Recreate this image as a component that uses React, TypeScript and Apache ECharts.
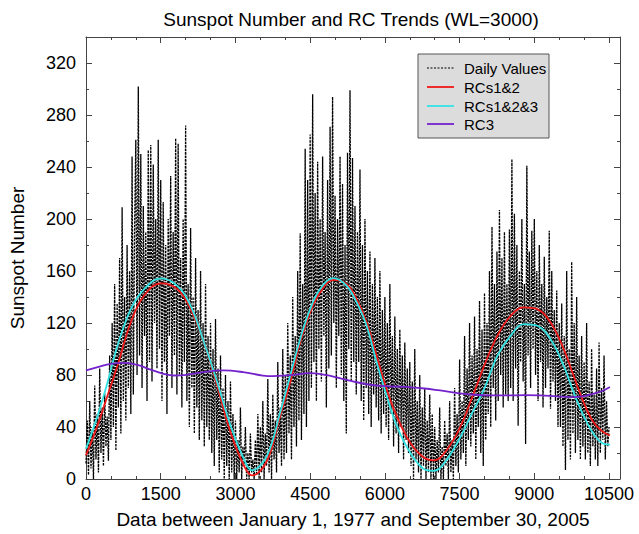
import React, { useEffect, useRef } from 'react';
import * as echarts from 'echarts';

// Daily sunspot values, one reading every 25 days from day 0
const dailyStep = 25;
const dailyValues = [
  12, 45, 3, 60, 8, 38, 0, 72, 15, 50, 5, 85, 20, 55, 10, 66, 25, 48, 14, 95,
  30, 120, 40, 150, 22, 135, 55, 170, 35, 209, 60, 140, 45, 180, 70, 160, 50, 248, 65, 190,
  261, 80, 302, 95, 250, 70, 210, 110, 190, 60, 253, 90, 257, 75, 242, 120, 200, 85, 261, 100,
  230, 60, 213, 90, 180, 50, 200, 110, 233, 70, 190, 95, 262, 65, 258, 80, 170, 55, 200, 90,
  272, 60, 150, 40, 193, 70, 140, 35, 170, 55, 130, 30, 160, 45, 120, 25, 150, 40, 110, 30,
  120, 20, 100, 10, 123, 30, 85, 5, 95, 15, 70, 0, 80, 10, 60, 0, 75, 5, 50, 0,
  45, 0, 30, 5, 55, 0, 25, 10, 40, 0, 20, 0, 35, 5, 15, 0, 30, 3, 50, 0,
  40, 5, 60, 0, 35, 10, 77, 5, 50, 0, 65, 15, 45, 5, 90, 20, 55, 10, 100, 15,
  80, 20, 120, 35, 95, 15, 140, 40, 110, 25, 160, 45, 189, 30, 150, 50, 254, 40, 230, 60,
  265, 70, 296, 90, 220, 60, 244, 100, 200, 75, 248, 110, 190, 55, 230, 85, 271, 95, 294, 120,
  218, 70, 200, 110, 248, 80, 227, 60, 180, 35, 251, 100, 299, 75, 247, 90, 210, 65, 190, 90,
  238, 60, 180, 45, 200, 70, 160, 50, 175, 40, 150, 65, 170, 55, 140, 45, 160, 35, 130, 50,
  140, 40, 120, 30, 150, 50, 110, 25, 125, 35, 100, 20, 115, 40, 95, 15, 105, 30, 85, 20,
  90, 10, 75, 0, 100, 15, 60, 5, 80, 0, 55, 10, 70, 0, 45, 5, 65, 0, 50, 0,
  40, 0, 30, 5, 55, 0, 25, 0, 45, 10, 35, 0, 60, 5, 30, 0, 70, 10, 50, 5,
  92, 15, 60, 20, 110, 10, 85, 30, 120, 25, 95, 35, 125, 15, 100, 40, 137, 20, 115, 10,
  143, 30, 120, 50, 160, 40, 194, 70, 150, 45, 175, 60, 207, 80, 170, 55, 190, 65, 150, 60,
  192, 70, 246, 60, 204, 85, 180, 41, 160, 90, 200, 75, 150, 27, 241, 95, 175, 70, 191, 100,
  200, 80, 160, 60, 180, 90, 150, 55, 171, 70, 140, 85, 191, 54, 160, 75, 130, 60, 145, 40,
  120, 40, 135, 25, 110, 7, 160, 30, 100, 15, 167, 35, 120, 20, 140, 30, 95, 15, 110, 25,
  90, 15, 120, 20, 75, 10, 100, 25, 65, 15, 85, 10, 105, 20, 70, 30, 95, 15, 60, 25, 40,
];

// RC trend curves (days and values)
const rcDays = [
  0, 233, 433, 633, 900, 1167, 1500, 1833, 2100, 2367, 2633, 2900, 3167, 3333,
  3633, 3900, 4100, 4300, 4500, 4700, 4967, 5233, 5433, 5633, 5833, 6033, 6233, 6500, 6767, 6967,
  7131, 7463, 7795, 7995, 8260, 8526, 8792, 9057, 9323, 9588, 9787, 9987, 10186, 10385, 10518,
];
const rcs12 = [
  18.3, 41.3, 64.3, 87.3, 120.6, 141.1, 150.5, 146.1, 130.7, 105.2, 71.9, 36.1, 10.5, 2.8,
  14, 48.9, 74.5, 105.2, 128.2, 143.5, 153.2, 149.9, 138.4, 120.5, 94.9, 69.3, 48.9, 28.4, 16.9, 14.4,
  17, 36, 67, 87.3, 110.3, 125.6, 132.0, 130.7, 120.5, 100.1, 79.6, 59.2, 43.8, 36.1, 33.6,
];
const rcs123 = [
  23.4, 48.9, 74.5, 102.6, 130.7, 146.1, 154.3, 148.6, 133.2, 105.2, 74.5, 41.3, 15.7, 6.7,
  18, 51.5, 79.6, 107.7, 130.7, 146.1, 154.5, 148.6, 135.8, 117.9, 89.8, 64.3, 41.3, 20.8, 8.1, 6.3,
  9.3, 28.5, 54.1, 69.4, 94.9, 110.3, 119.2, 117.9, 107.7, 87.3, 66.8, 48.9, 34.9, 27.2, 26.5,
];
const rc3Days = [
  0, 233, 498, 764, 1030, 1295, 1561, 1760, 2026, 2358, 2756, 3155,
  3553, 3745, 4144, 4476, 4808, 5073, 5339, 5671, 6003, 6401, 6800, 7066,
  7463, 7795, 8127, 8459, 8792, 9124, 9456, 9787, 9987, 10186, 10385, 10518,
];
const rc3 = [
  83.5, 86.0, 88.6, 89.3, 87.8, 84.2, 80.9, 79.6, 80.1, 82.2, 83.5, 82.2,
  79.6, 79.1, 80.1, 81.4, 80.1, 77.8, 75.3, 72.7, 71.4, 70.9, 69.6, 68.3,
  66.1, 64.8, 64.3, 64.3, 64.5, 64.3, 63.5, 63.0, 63.7, 65.6, 68.1, 70.7,
];

const seriesNames = ['Daily Values', 'RCs1&2', 'RCs1&2&3', 'RC3'];
const seriesColors = ['#000000', '#f01818', '#33e3e3', '#7422cc'];

const xMax = 10720;
const yMax = 340;
const font = 'Liberation Sans, Arial, sans-serif';
const axisColor = '#444';

function xAxisDef(position: string, interval: number, major: boolean, withLabels: boolean) {
  return {
    type: 'value',
    position,
    min: 0,
    max: xMax,
    interval,
    splitLine: { show: false },
    axisLine: { show: major, onZero: false, lineStyle: { color: axisColor, width: 1 } },
    axisTick: { show: true, inside: true, length: major ? 6 : 3, lineStyle: { color: axisColor } },
    axisLabel: withLabels
      ? {
          show: true,
          margin: 6,
          fontSize: 18,
          color: '#000',
          fontFamily: font,
          showMaxLabel: false,
          formatter: (v: number) => String(v),
        }
      : { show: false },
    ...(withLabels
      ? {
          name: 'Data between January 1, 1977 and September 30, 2005',
          nameLocation: 'middle',
          nameGap: 31,
          nameTextStyle: { fontSize: 19, color: '#000', fontFamily: font },
        }
      : {}),
  };
}

function yAxisDef(position: string, interval: number, major: boolean, withLabels: boolean) {
  return {
    type: 'value',
    position,
    min: 0,
    max: yMax,
    interval,
    splitLine: { show: false },
    axisLine: { show: major, onZero: false, lineStyle: { color: axisColor, width: 1 } },
    axisTick: { show: true, inside: true, length: major ? 6 : 3, lineStyle: { color: axisColor } },
    axisLabel: withLabels
      ? {
          show: true,
          margin: 10,
          fontSize: 18,
          color: '#000',
          fontFamily: font,
          showMaxLabel: false,
          formatter: (v: number) => String(v),
        }
      : { show: false },
    ...(withLabels
      ? {
          name: 'Sunspot Number',
          nameLocation: 'middle',
          nameGap: 59,
          nameTextStyle: { fontSize: 19, color: '#000', fontFamily: font },
        }
      : {}),
  };
}

export default function App() {
  const ref = useRef<HTMLDivElement>(null);

  useEffect(() => {
    document.body.style.margin = '0';
    if (!ref.current) return;
    const chart = echarts.init(ref.current, undefined, { renderer: 'svg' });

    const legendX = 418;
    const legendY = 54;
    const rowYs = [68, 87, 106, 124];
    const legendGraphics: any[] = [
      {
        type: 'rect',
        shape: { x: legendX, y: legendY, width: 131, height: 84 },
        style: { fill: '#dcdcdc', stroke: '#555', lineWidth: 1 },
        z: 100,
      },
    ];
    seriesNames.forEach((name, i) => {
      legendGraphics.push({
        type: 'line',
        shape: { x1: 427, y1: rowYs[i], x2: 454, y2: rowYs[i] },
        style: {
          stroke: seriesColors[i],
          lineWidth: i === 0 ? 1 : 1.8,
          lineDash: i === 0 ? [2, 1.5] : null,
        },
        z: 101,
      });
      legendGraphics.push({
        type: 'text',
        x: 464,
        y: rowYs[i],
        style: {
          text: name,
          font: `15px ${font}`,
          fill: '#000',
          verticalAlign: 'middle',
          align: 'left',
        },
        z: 101,
      });
    });

    const option: any = {
      animation: false,
      backgroundColor: '#fff',
      grid: { left: 82, right: 19, top: 37, bottom: 53, containLabel: false },
      graphic: [
        {
          type: 'text',
          x: 351,
          y: 19,
          style: {
            text: 'Sunspot Number and RC Trends (WL=3000)',
            font: `19px ${font}`,
            fill: '#000',
            align: 'center',
            verticalAlign: 'middle',
          },
        },
        ...legendGraphics,
      ],
      xAxis: [
        xAxisDef('bottom', 1500, true, true),
        xAxisDef('bottom', 500, false, false),
        xAxisDef('top', 1500, true, false),
        xAxisDef('top', 500, false, false),
      ],
      yAxis: [
        yAxisDef('left', 40, true, true),
        yAxisDef('left', 20, false, false),
        yAxisDef('right', 40, true, false),
        yAxisDef('right', 20, false, false),
      ],
      series: [
        {
          name: seriesNames[0],
          type: 'line',
          xAxisIndex: 0,
          yAxisIndex: 0,
          showSymbol: false,
          symbol: 'none',
          silent: true,
          data: dailyValues.map((v, i) => [i * dailyStep, v]),
          lineStyle: { color: seriesColors[0], width: 1.3, type: [2.5, 1] },
        },
        {
          name: seriesNames[1],
          type: 'line',
          xAxisIndex: 0,
          yAxisIndex: 0,
          showSymbol: false,
          symbol: 'none',
          silent: true,
          smooth: 0.4,
          data: rcDays.map((d, i) => [d, rcs12[i]]),
          lineStyle: { color: seriesColors[1], width: 1.8 },
        },
        {
          name: seriesNames[2],
          type: 'line',
          xAxisIndex: 0,
          yAxisIndex: 0,
          showSymbol: false,
          symbol: 'none',
          silent: true,
          smooth: 0.4,
          data: rcDays.map((d, i) => [d, rcs123[i]]),
          lineStyle: { color: seriesColors[2], width: 1.8 },
        },
        {
          name: seriesNames[3],
          type: 'line',
          xAxisIndex: 0,
          yAxisIndex: 0,
          showSymbol: false,
          symbol: 'none',
          silent: true,
          smooth: 0.4,
          data: rc3Days.map((d, i) => [d, rc3[i]]),
          lineStyle: { color: seriesColors[3], width: 1.8 },
        },
      ],
    };

    chart.setOption(option);
    return () => {
      chart.dispose();
    };
  }, []);

  return <div ref={ref} style={{ width: 639, height: 534 }} />;
}
